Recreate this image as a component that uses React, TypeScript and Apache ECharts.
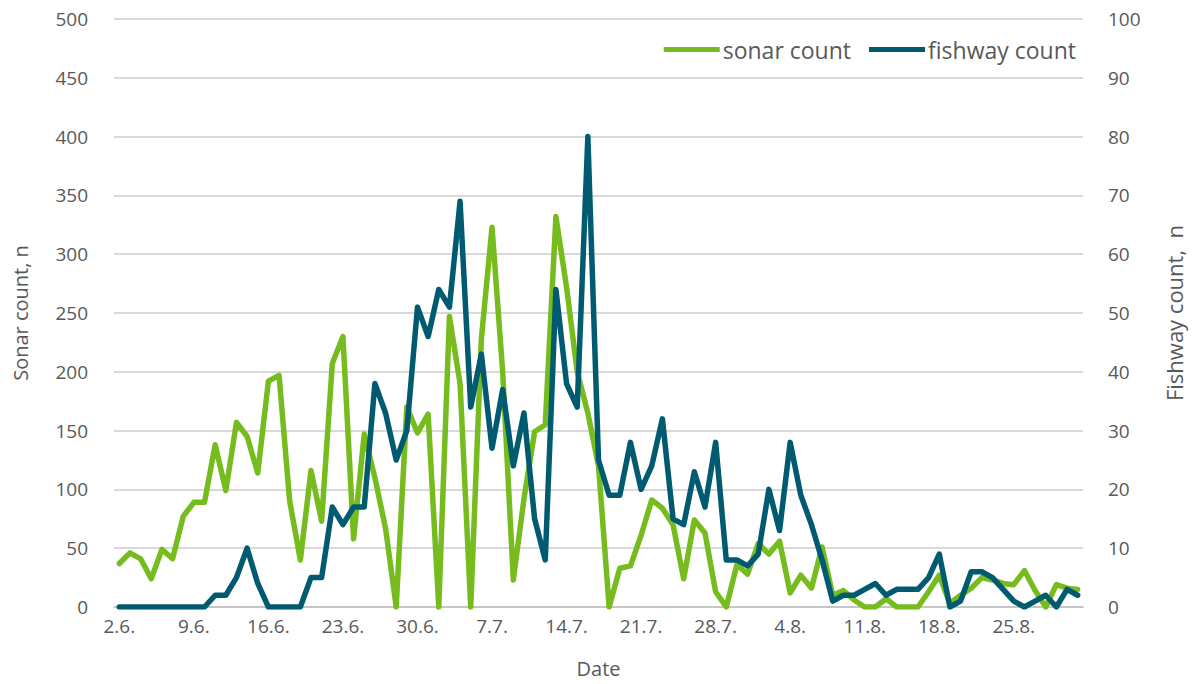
import React, { useEffect, useRef } from "react";
import * as echarts from "echarts";

const dates: string[] = [
  "2.6.", "3.6.", "4.6.", "5.6.", "6.6.", "7.6.", "8.6.", "9.6.", "10.6.", "11.6.",
  "12.6.", "13.6.", "14.6.", "15.6.", "16.6.", "17.6.", "18.6.", "19.6.", "20.6.", "21.6.",
  "22.6.", "23.6.", "24.6.", "25.6.", "26.6.", "27.6.", "28.6.", "29.6.", "30.6.", "1.7.",
  "2.7.", "3.7.", "4.7.", "5.7.", "6.7.", "7.7.", "8.7.", "9.7.", "10.7.", "11.7.",
  "12.7.", "13.7.", "14.7.", "15.7.", "16.7.", "17.7.", "18.7.", "19.7.", "20.7.", "21.7.",
  "22.7.", "23.7.", "24.7.", "25.7.", "26.7.", "27.7.", "28.7.", "29.7.", "30.7.", "31.7.",
  "1.8.", "2.8.", "3.8.", "4.8.", "5.8.", "6.8.", "7.8.", "8.8.", "9.8.", "10.8.",
  "11.8.", "12.8.", "13.8.", "14.8.", "15.8.", "16.8.", "17.8.", "18.8.", "19.8.", "20.8.",
  "21.8.", "22.8.", "23.8.", "24.8.", "25.8.", "26.8.", "27.8.", "28.8.", "29.8.", "30.8.",
  "31.8.",
];

const sonarCount: number[] = [
  37, 46, 41, 24, 49, 41, 77, 89, 89, 138,
  99, 157, 145, 114, 192, 197, 90, 40, 116, 73,
  207, 230, 58, 147, 110, 67, 0, 170, 148, 164,
  0, 247, 190, 0, 228, 323, 200, 23, 92, 149,
  155, 332, 272, 200, 165, 120, 0, 33, 35, 61,
  91, 84, 70, 24, 74, 63, 13, 0, 36, 28,
  54, 45, 56, 12, 27, 16, 51, 10, 14, 6,
  0, 0, 7, 0, 0, 0, 13, 27, 3, 10,
  16, 25, 23, 20, 19, 31, 14, 0, 19, 16,
  15,
];

const fishwayCount: number[] = [
  0, 0, 0, 0, 0, 0, 0, 0, 0, 2,
  2, 5, 10, 4, 0, 0, 0, 0, 5, 5,
  17, 14, 17, 17, 38, 33, 25, 30, 51, 46,
  54, 51, 69, 34, 43, 27, 37, 24, 33, 15,
  8, 54, 38, 34, 80, 25, 19, 19, 28, 20,
  24, 32, 15, 14, 23, 17, 28, 8, 8, 7,
  9, 20, 13, 28, 19, 14, 8, 1, 2, 2,
  3, 4, 2, 3, 3, 3, 5, 9, 0, 1,
  6, 6, 5, 3, 1, 0, 1, 2, 0, 3,
  2,
];

const seriesNames = ["sonar count", "fishway count"];
const seriesColors = ["#77BC1F", "#005B70"];

const FONT = "'Open Sans', sans-serif";
const TEXT = "#595959";

export default function App() {
  const ref = useRef<HTMLDivElement>(null);
  useEffect(() => {
    if (!ref.current) return;
    const chart = echarts.init(ref.current, undefined, { renderer: "svg" });
    chart.setOption({
      animation: false,
      textStyle: { fontFamily: FONT, color: TEXT },
      grid: { left: 114, right: 106, top: 19, bottom: 77, containLabel: false },
      legend: {
        right: 112,
        top: 33,
        icon: "rect",
        itemWidth: 56,
        itemHeight: 5,
        itemGap: 18,
        textStyle: { fontFamily: FONT, fontSize: 23, color: TEXT, padding: [0, 0, 0, -2] },
        data: seriesNames,
      },
      xAxis: {
        type: "category",
        data: dates,
        boundaryGap: true,
        name: "Date",
        nameLocation: "middle",
        nameGap: 51,
        nameTextStyle: { fontFamily: FONT, fontSize: 20, color: TEXT },
        axisLine: { lineStyle: { color: "#BFBFBF", width: 1.5 } },
        axisTick: { interval: 6, length: 6, lineStyle: { color: "#BFBFBF", width: 1.5 } },
        axisLabel: { interval: 6, margin: 9, fontFamily: FONT, fontSize: 19, color: TEXT },
        splitLine: { show: false },
      },
      yAxis: [
        {
          type: "value",
          min: 0,
          max: 500,
          interval: 50,
          name: "Sonar count, n",
          nameLocation: "middle",
          nameGap: 84,
          nameTextStyle: { fontFamily: FONT, fontSize: 20, color: TEXT },
          axisLine: { show: false },
          axisTick: { show: false },
          axisLabel: { margin: 26, fontFamily: FONT, fontSize: 19, color: TEXT },
          splitLine: { lineStyle: { color: "#D9D9D9", width: 2 } },
        },
        {
          type: "value",
          min: 0,
          max: 100,
          interval: 10,
          name: "Fishway count,  n",
          nameLocation: "middle",
          nameGap: 80,
          nameTextStyle: { fontFamily: FONT, fontSize: 22, color: TEXT },
          axisLine: { show: false },
          axisTick: { show: false },
          axisLabel: { margin: 25, fontFamily: FONT, fontSize: 19, color: TEXT },
          splitLine: { show: false },
        },
      ],
      series: [
        {
          name: seriesNames[0],
          type: "line",
          yAxisIndex: 0,
          data: sonarCount,
          showSymbol: false,
          symbol: "none",
          color: seriesColors[0],
          lineStyle: { width: 5.5, color: seriesColors[0], cap: "round", join: "round" },
          z: 2,
        },
        {
          name: seriesNames[1],
          type: "line",
          yAxisIndex: 1,
          data: fishwayCount,
          showSymbol: false,
          symbol: "none",
          color: seriesColors[1],
          lineStyle: { width: 5.5, color: seriesColors[1], cap: "round", join: "round" },
          z: 3,
        },
      ],
    });
    return () => chart.dispose();
  }, []);
  return (
    <div
      ref={ref}
      style={{ position: "absolute", left: 0, top: 0, width: 1193, height: 684, background: "#fff" }}
    />
  );
}
